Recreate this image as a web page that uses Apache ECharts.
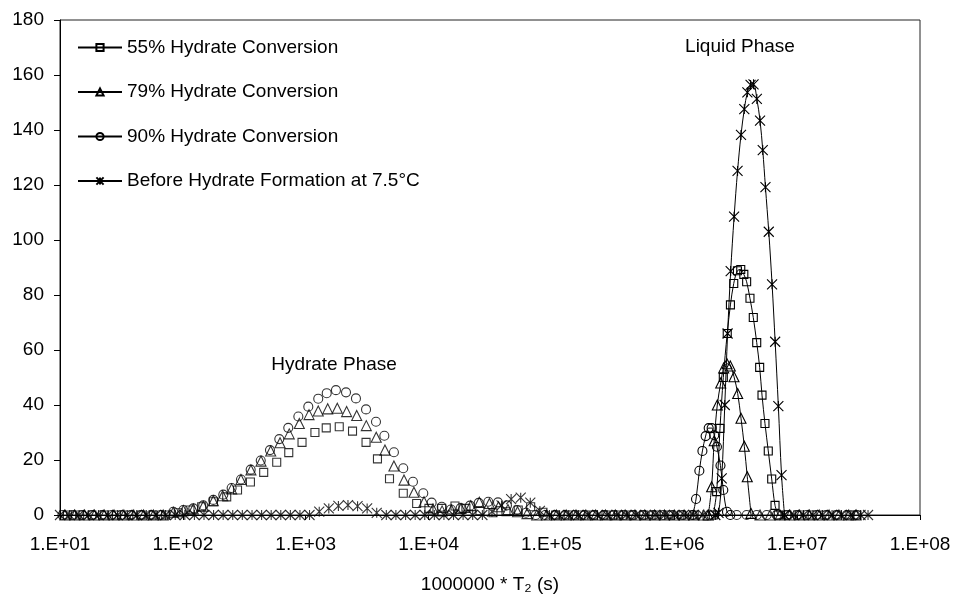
<!DOCTYPE html>
<html>
<head>
<meta charset="utf-8">
<script src="https://cdn.jsdelivr.net/npm/echarts@6/dist/echarts.min.js"></script>
<style>
  html, body { margin: 0; padding: 0; background: #fff; }
  #chart { width: 954px; height: 596px; }
</style>
</head>
<body>
<div id="chart"></div>
<script>
// x values are log10(1000000 * T2 [s]); y values are distribution amplitudes
const tickLabels = ['1.E+01', '1.E+02', '1.E+03', '1.E+04', '1.E+05', '1.E+06', '1.E+07', '1.E+08'];
const seriesNames = [
  '55% Hydrate Conversion',
  '79% Hydrate Conversion',
  '90% Hydrate Conversion',
  'Before Hydrate Formation at 7.5°C'
];

// 55% hydrate conversion: markers only (hydrate phase and baseline)
const points55 = [
  [1.06,0],[1.16,0],[1.26,0],[1.36,0],[1.46,0],[1.56,0],[1.66,0],[1.76,0],[1.86,0],
  [1.963,0.8],[2.058,1.8],[2.153,3.0],[2.248,4.8],[2.357,6.6],[2.445,9.1],[2.550,12.0],[2.658,15.5],[2.764,19.2],[2.862,22.7],
  [2.970,26.4],[3.075,30.0],[3.167,31.7],[3.273,32.1],[3.381,30.5],[3.491,26.4],[3.584,20.4],[3.682,13.2],[3.794,7.9],[3.903,4.2],
  [4.003,2.4],[4.107,2.4],[4.215,3.3],[4.304,2.4],[4.418,1.5],[4.524,0.8],[4.630,1.2],[4.730,1.8],[4.831,3.0],[4.931,1.0],
  [5.034,0],[5.136,0],[5.239,0],[5.341,0],[5.444,0],[5.546,0],[5.649,0],[5.752,0],[5.854,0],[5.957,0],[6.059,0],[6.162,0],
  [6.917,0],[7.020,0],[7.122,0],[7.225,0],[7.327,0],[7.430,0],[7.487,0]
];
// 55% hydrate conversion: liquid phase (smoothed line)
const liquid55 = [
  [6.317,0],[6.345,8.5],[6.372,31.5],[6.399,50],[6.431,66],[6.457,76.4],[6.484,84.2],[6.514,88.8],[6.541,89.3],[6.566,87.5],
  [6.589,84.8],[6.616,78.8],[6.643,71.8],[6.671,62.7],[6.695,53.7],[6.714,43.6],[6.738,33.3],[6.765,23.3],[6.793,13.1],[6.820,3.5],[6.846,0]
];

// 79% hydrate conversion
const points79 = [
  [1.04,0],[1.12,0],[1.20,0],[1.28,0],[1.36,0],[1.44,0],[1.52,0],[1.60,0],[1.68,0],[1.76,0],[1.84,0],
  [1.922,1.0],[2.004,1.6],[2.085,2.2],[2.166,3.2],[2.248,5.2],[2.324,7.0],[2.397,9.5],[2.473,12.9],[2.554,16.4],[2.636,19.6],
  [2.715,23.3],[2.791,26.3],[2.866,29.5],[2.948,33.3],[3.027,36.5],[3.102,37.8],[3.179,38.6],[3.257,38.8],[3.333,37.6],[3.415,36.2],
  [3.493,32.5],[3.574,28.3],[3.645,23.6],[3.718,17.8],[3.800,12.7],[3.881,8.3],[3.963,4.8],[4.036,2.2],[4.110,1.5],[4.186,1.8],
  [4.264,2.4],[4.343,3.4],[4.413,4.6],[4.495,4.2],[4.569,3.0],[4.646,2.0],[4.724,1.2],[4.801,0.5],
  [4.88,0],[4.96,0],[5.04,0],[5.12,0],[5.20,0],[5.28,0],[5.36,0],[5.44,0],[5.52,0],[5.60,0],[5.68,0],[5.76,0],[5.84,0],[5.92,0],[6.00,0],[6.08,0],[6.16,0],[6.24,0],
  [6.698,0],[6.78,0],[6.86,0],[6.94,0],[7.02,0],[7.10,0],[7.18,0],[7.26,0],[7.34,0],[7.42,0],[7.48,0]
];
const liquid79 = [
  [6.277,0],[6.304,10.3],[6.325,27],[6.350,40],[6.378,48],[6.402,53.5],[6.429,55],[6.456,54.2],[6.486,50.3],[6.516,44.2],
  [6.543,35.2],[6.570,25],[6.594,13.9],[6.624,0.6]
];

// 90% hydrate conversion
const points90 = [
  [1.02,0],[1.10,0],[1.18,0],[1.26,0],[1.34,0],[1.42,0],[1.50,0],[1.58,0],[1.66,0],[1.74,0],[1.82,0],
  [1.922,1.2],[2.004,1.8],[2.085,2.4],[2.166,3.5],[2.248,5.5],[2.329,7.4],[2.397,9.8],[2.473,12.9],[2.552,16.5],[2.634,19.8],
  [2.709,23.6],[2.785,27.6],[2.858,31.7],[2.940,35.8],[3.021,39.4],[3.102,42.3],[3.171,44.3],[3.246,45.4],[3.328,44.6],[3.409,42.4],
  [3.491,38.4],[3.572,33.9],[3.640,28.8],[3.718,22.8],[3.794,17.0],[3.873,12.1],[3.957,7.9],[4.025,4.5],[4.107,3.0],[4.182,2.0],
  [4.261,2.5],[4.337,3.4],[4.408,4.4],[4.486,4.8],[4.565,4.6],[4.638,3.5],[4.720,1.8],[4.793,0.8],
  [4.872,0],[4.95,0],[5.03,0],[5.11,0],[5.19,0],[5.27,0],[5.35,0],[5.43,0],[5.51,0],[5.59,0],[5.67,0],[5.75,0],[5.83,0],[5.91,0],[5.99,0],[6.07,0],
  [6.508,0],[6.589,0],[6.671,0],[6.752,0],[6.833,0],[6.915,0],[6.996,0],[7.077,0],[7.159,0],[7.240,0],[7.322,0],[7.403,0],[7.485,0]
];
const liquid90 = [
  [6.150,0],[6.177,5.8],[6.204,16.1],[6.229,23.3],[6.255,28.7],[6.280,31.6],[6.304,31.6],[6.325,29.0],[6.347,24.8],[6.376,18.0],
  [6.399,9.1],[6.429,1.2],[6.456,0]
];

// Before hydrate formation at 7.5 °C
const pointsBefore = [
  [1.000,0],[1.078,0],[1.156,0],[1.234,0],[1.313,0],[1.391,0],[1.469,0],[1.547,0],[1.625,0],[1.703,0],[1.781,0],[1.859,0],[1.938,0],
  [2.016,0],[2.094,0],[2.172,0],[2.250,0],[2.328,0],[2.406,0],[2.484,0],[2.563,0],[2.641,0],[2.719,0],[2.797,0],[2.875,0],[2.953,0],[3.031,0],
  [3.110,1.2],[3.188,2.4],[3.266,3.3],[3.344,3.6],[3.422,3.2],[3.500,2.4],[3.578,0.8],
  [3.656,0],[3.734,0],[3.813,0],[3.891,0],[3.969,0],[4.047,0],[4.125,0],[4.203,0],[4.281,0],[4.359,0],[4.438,0],
  [4.516,1.2],[4.594,3.5],[4.672,5.8],[4.750,6.3],[4.828,4.5],[4.906,1.5],
  [4.984,0],[5.063,0],[5.141,0],[5.219,0],[5.297,0],[5.375,0],[5.453,0],[5.531,0],[5.609,0],[5.688,0],[5.766,0],[5.844,0],[5.922,0],
  [6.000,0],[6.078,0],[6.156,0],[6.234,0],
  [6.974,0],[7.052,0],[7.129,0],[7.206,0],[7.284,0],[7.361,0],[7.438,0],[7.516,0],[7.577,0]
];
const liquidBefore = [
  [6.334,0],[6.360,0.8],[6.386,13.3],[6.411,40],[6.434,66],[6.459,88.7],[6.487,108.5],[6.515,125.1],[6.543,138.2],[6.570,147.6],
  [6.595,153.7],[6.621,156.4],[6.645,156.6],[6.672,151.3],[6.698,143.4],[6.720,132.7],[6.742,119.2],[6.769,103],[6.796,83.9],
  [6.821,63],[6.847,39.6],[6.873,14.5],[6.897,0]
];

const annotations = ['Hydrate Phase', 'Liquid Phase'];
const xAxisTitle = '1000000 * T\u2082 (s)';

const FONT = '"Liberation Sans", Arial, sans-serif';
const starPath = 'path://M0,0L10,10M10,0L0,10M5,0L5,10';
const markers = [
  { symbol: 'rect', size: 8 },
  { symbol: 'triangle', size: 10 },
  { symbol: 'circle', size: 9 },
  { symbol: starPath, size: 10 }
];
const pointSets = [points55, points79, points90, pointsBefore];
const liquidSets = [liquid55, liquid79, liquid90, liquidBefore];

const itemStyle = { color: 'rgba(255,255,255,0)', borderColor: '#000', borderWidth: 1.1 };

const series = [];
seriesNames.forEach((name, i) => {
  series.push({
    name: name,
    type: 'line',
    data: liquidSets[i],
    smooth: 0.35,
    symbol: markers[i].symbol,
    symbolSize: markers[i].size,
    showSymbol: true,
    clip: false,
    itemStyle: itemStyle,
    lineStyle: { color: '#000', width: 1 },
    emphasis: { disabled: true },
    z: 3
  });
});
seriesNames.forEach((name, i) => {
  series.push({
    name: name,
    type: 'scatter',
    data: pointSets[i],
    symbol: markers[i].symbol,
    symbolSize: markers[i].size,
    clip: false,
    itemStyle: itemStyle,
    emphasis: { disabled: true },
    z: 3
  });
});

const chart = echarts.init(document.getElementById('chart'), null, { renderer: 'canvas' });
chart.setOption({
  animation: false,
  backgroundColor: '#fff',
  textStyle: { fontFamily: FONT },
  grid: {
    left: 60, right: 34, top: 20, bottom: 81,
    containLabel: false,
    outerBoundsMode: 'none',
    show: true, borderColor: '#222', borderWidth: 1, backgroundColor: 'transparent'
  },
  legend: {
    data: seriesNames,
    orient: 'vertical',
    left: 77,
    top: 38,
    padding: 0,
    itemWidth: 44,
    itemHeight: 9,
    itemGap: 25.5,
    selectedMode: false,
    textStyle: { color: '#000', fontSize: 19, fontFamily: FONT }
  },
  xAxis: {
    type: 'value',
    min: 1,
    max: 8,
    interval: 1,
    name: xAxisTitle,
    nameLocation: 'middle',
    nameGap: 60,
    nameTextStyle: { color: '#000', fontSize: 19, fontFamily: FONT },
    axisLine: { show: true, onZero: false, lineStyle: { color: '#000', width: 1 } },
    axisTick: { show: true, inside: false, length: 5, lineStyle: { color: '#000' } },
    axisLabel: {
      color: '#000', fontSize: 19, fontFamily: FONT, margin: 20,
      formatter: v => tickLabels[Math.round(v) - 1]
    },
    splitLine: { show: false }
  },
  yAxis: {
    type: 'value',
    min: 0,
    max: 180,
    interval: 20,
    axisLine: { show: true, lineStyle: { color: '#000', width: 1 } },
    axisTick: { show: true, inside: false, length: 6, lineStyle: { color: '#000' } },
    axisLabel: { color: '#000', fontSize: 19, fontFamily: FONT, margin: 16 },
    splitLine: { show: false }
  },
  graphic: [
    {
      type: 'text', x: 334, y: 365, silent: true,
      style: { text: annotations[0], fill: '#000', font: '19px ' + FONT, align: 'center', verticalAlign: 'middle' }
    },
    {
      type: 'text', x: 740, y: 47, silent: true,
      style: { text: annotations[1], fill: '#000', font: '19px ' + FONT, align: 'center', verticalAlign: 'middle' }
    }
  ],
  series: series
});
</script>
</body>
</html>
